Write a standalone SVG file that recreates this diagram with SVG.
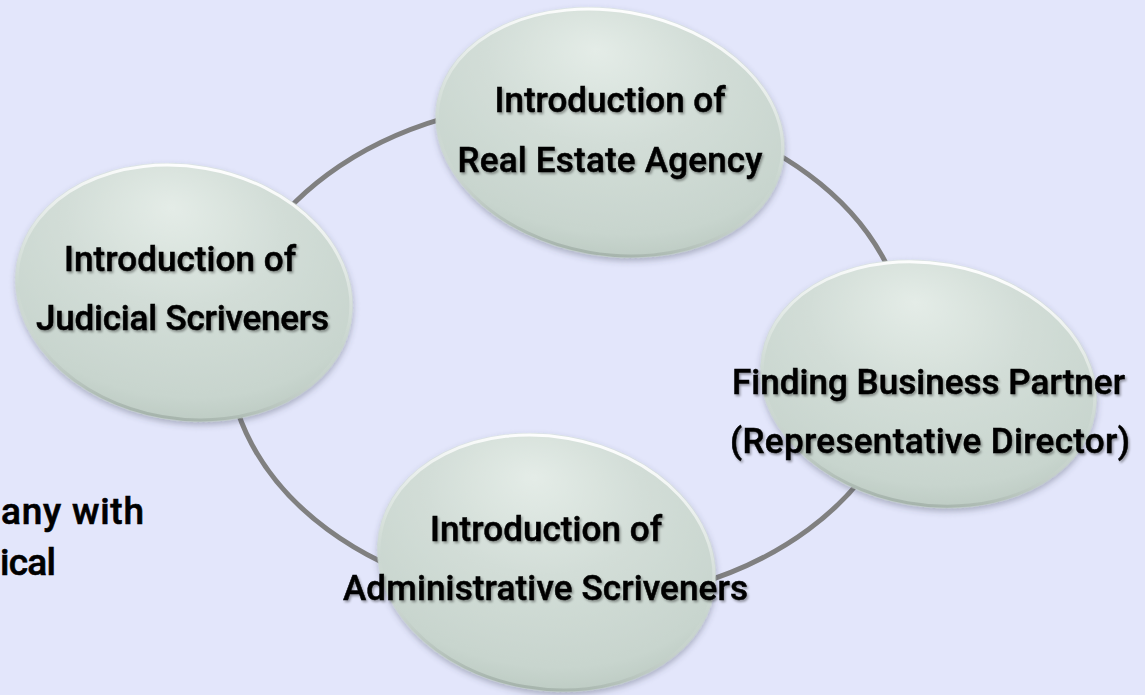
<svg xmlns="http://www.w3.org/2000/svg" width="1145" height="695" viewBox="0 0 1145 695">
  <defs>
    <radialGradient id="ball" cx="0.45" cy="0.32" r="0.72" fx="0.42" fy="0.18">
      <stop offset="0" stop-color="#E4ECE7"/>
      <stop offset="0.45" stop-color="#D2DDD7"/>
      <stop offset="0.85" stop-color="#C8D5CE"/>
      <stop offset="0.96" stop-color="#BECCC4"/>
      <stop offset="1" stop-color="#A9B7AF"/>
    </radialGradient>
    <linearGradient id="rim" x1="0" y1="0" x2="0" y2="1">
      <stop offset="0" stop-color="#FFFFFF" stop-opacity="0.95"/>
      <stop offset="0.35" stop-color="#FFFFFF" stop-opacity="0.35"/>
      <stop offset="0.6" stop-color="#FFFFFF" stop-opacity="0"/>
      <stop offset="1" stop-color="#8E9C94" stop-opacity="0.5"/>
    </linearGradient>
    <filter id="nshadow" x="-20%" y="-20%" width="140%" height="140%">
      <feDropShadow dx="1" dy="3" stdDeviation="3" flood-color="#3A3F55" flood-opacity="0.35"/>
    </filter>
    <filter id="tshadow" x="-5%" y="-30%" width="110%" height="160%">
      <feDropShadow dx="1.5" dy="2" stdDeviation="1.2" flood-color="#000" flood-opacity="0.35"/>
    </filter>
  </defs>
  <style>
    .ring { fill: none; stroke: #808080; stroke-width: 5; }
    .body { fill: url(#ball); filter: url(#nshadow); }
    .rim { fill: none; stroke: url(#rim); stroke-width: 3; }
    .lbl { font-family: Roboto, "Liberation Sans", sans-serif; font-weight: 500; font-size: 35px; fill: #000; stroke: #000; stroke-width: 0.5; text-anchor: middle; filter: url(#tshadow); }
    .side { font-family: Roboto, "Liberation Sans", sans-serif; font-weight: 500; font-size: 37px; fill: #000; stroke: #000; stroke-width: 0.6; }
  </style>
  <rect x="0" y="0" width="1145" height="695" fill="#E3E6FB"/>

  <g id="side-text">
    <text class="side" x="1" y="524" textLength="143" lengthAdjust="spacing">any with</text>
    <text class="side" x="0" y="575" textLength="56" lengthAdjust="spacing">ical</text>
  </g>

  <g id="connectors">
    <ellipse class="ring" cx="568" cy="352" rx="340" ry="251"/>
  </g>

  <g id="node-real-estate">
    <g transform="translate(610,132.5) rotate(10)">
      <ellipse class="body" cx="0" cy="0" rx="176" ry="123.5"/>
      <ellipse class="rim" cx="0" cy="0" rx="174" ry="121.5"/>
    </g>
    <text class="lbl" x="610" y="112" textLength="231" lengthAdjust="spacing">Introduction of</text>
    <text class="lbl" x="610" y="172" textLength="305" lengthAdjust="spacing">Real Estate Agency</text>
  </g>

  <g id="node-judicial">
    <g transform="translate(184,292.5) rotate(10)">
      <ellipse class="body" cx="0" cy="0" rx="170" ry="128"/>
      <ellipse class="rim" cx="0" cy="0" rx="168" ry="126"/>
    </g>
    <text class="lbl" x="180" y="271" textLength="232" lengthAdjust="spacing">Introduction of</text>
    <text class="lbl" x="182.5" y="330" textLength="293" lengthAdjust="spacing">Judicial Scriveners</text>
  </g>

  <g id="node-partner">
    <g transform="translate(928.5,384) rotate(10)">
      <ellipse class="body" cx="0" cy="0" rx="169.5" ry="122.5"/>
      <ellipse class="rim" cx="0" cy="0" rx="167.5" ry="120.5"/>
    </g>
    <text class="lbl" x="928.5" y="394" textLength="393" lengthAdjust="spacing">Finding Business Partner</text>
    <text class="lbl" x="930" y="453" textLength="400" lengthAdjust="spacing">(Representative Director)</text>
  </g>

  <g id="node-administrative">
    <g transform="translate(546.5,562.5) rotate(10)">
      <ellipse class="body" cx="0" cy="0" rx="170.5" ry="128"/>
      <ellipse class="rim" cx="0" cy="0" rx="168.5" ry="126"/>
    </g>
    <text class="lbl" x="546" y="541" textLength="232" lengthAdjust="spacing">Introduction of</text>
    <text class="lbl" x="545.5" y="600" textLength="405" lengthAdjust="spacing">Administrative Scriveners</text>
  </g>
</svg>
